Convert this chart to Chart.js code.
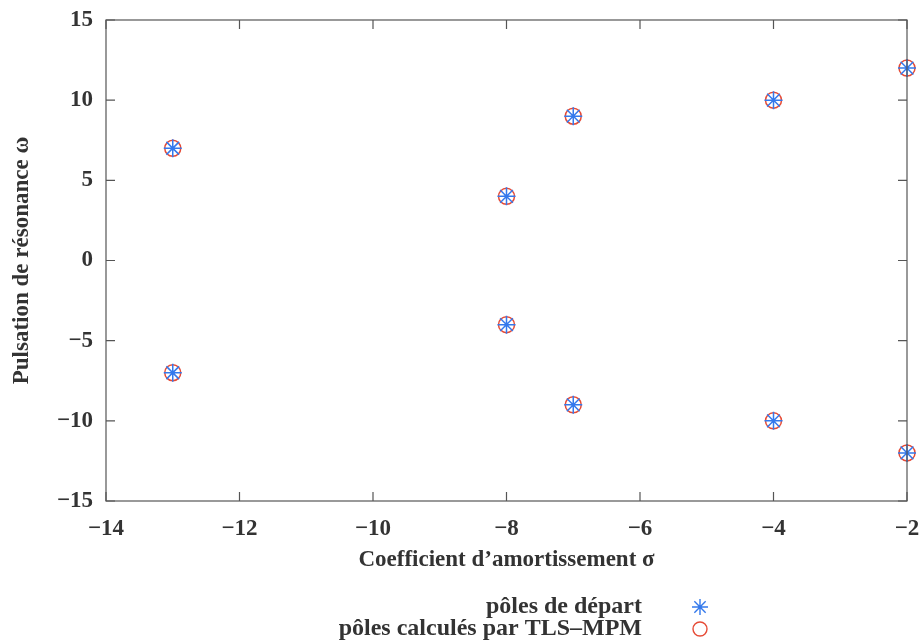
<!DOCTYPE html>
<html>
<head>
<meta charset="utf-8">
<script src="https://cdn.jsdelivr.net/npm/chart.js@4.4.0/dist/chart.umd.min.js"></script>
<style>
  html, body { margin: 0; padding: 0; background: #fff; }
  #wrap { width: 921px; height: 641px; }
</style>
</head>
<body>
<div id="wrap"><canvas id="myChart" width="921" height="641"></canvas></div>
<script>
const sigma = [-13, -13, -8, -8, -7, -7, -4, -4, -2, -2];
const omegaStart = [7, -7, 4, -4, 9, -9, 10, -10, 12, -12];
const omegaTls = [7, -7, 4, -4, 9, -9, 10, -10, 12, -12];
const xTicks = [-14, -12, -10, -8, -6, -4, -2];
const yTicks = [-15, -10, -5, 0, 5, 10, 15];
const seriesLabels = ["pôles de départ", "pôles calculés par TLS\u2013MPM"];

const ctx = document.getElementById("myChart").getContext("2d");
const serif = "'Liberation Serif', 'Times New Roman', serif";
const ink = "#333";
const blue = "#3479ec";
const red = "#e64b36";

const toPoints = (xs, ys) => xs.map((x, i) => ({ x: x, y: ys[i] }));

// inner ticks + full frame, gnuplot style
const frame = {
    id: "frame",
    afterDatasetsDraw(chart) {
        const c = chart.ctx, a = chart.chartArea;
        const sx = chart.scales.x, sy = chart.scales.y;
        c.save();
        c.strokeStyle = "#555";
        c.lineWidth = 1.2;
        c.strokeRect(a.left, a.top, a.right - a.left, a.bottom - a.top);
        c.beginPath();
        xTicks.forEach(v => {
            const px = sx.getPixelForValue(v);
            c.moveTo(px, a.bottom); c.lineTo(px, a.bottom - 9);
            c.moveTo(px, a.top); c.lineTo(px, a.top + 9);
        });
        yTicks.forEach(v => {
            const py = sy.getPixelForValue(v);
            c.moveTo(a.left, py); c.lineTo(a.left + 9, py);
            c.moveTo(a.right, py); c.lineTo(a.right - 9, py);
        });
        c.stroke();
        c.restore();
    },
    afterDraw(chart) {
        // legend: text right-aligned, marker on the right
        const c = chart.ctx;
        const textRight = 642, markX = 700, rows = [607, 629];
        c.save();
        c.font = "bold 24px " + serif;
        c.fillStyle = ink;
        c.textAlign = "right";
        c.textBaseline = "middle";
        chart.data.datasets.forEach((ds, i) => {
            const y = rows[i];
            c.fillText(ds.label, textRight, y);
            c.strokeStyle = ds.borderColor;
            c.lineWidth = 1.4;
            c.beginPath();
            if (ds.pointStyle === "circle") {
                c.arc(markX, y, 7, 0, Math.PI * 2);
            } else {
                for (let k = 0; k < 4; k++) {
                    const ang = k * Math.PI / 4;
                    c.moveTo(markX - 8 * Math.cos(ang), y - 8 * Math.sin(ang));
                    c.lineTo(markX + 8 * Math.cos(ang), y + 8 * Math.sin(ang));
                }
            }
            c.stroke();
        });
        c.restore();
    }
};

const data = {
    datasets: [
        {
            label: seriesLabels[0],
            data: toPoints(sigma, omegaStart),
            pointStyle: "star",
            radius: 9,
            borderColor: blue,
            backgroundColor: blue,
            borderWidth: 1.5,
            showLine: false,
            clip: false,
        },
        {
            label: seriesLabels[1],
            data: toPoints(sigma, omegaTls),
            pointStyle: "circle",
            radius: 8,
            borderColor: red,
            backgroundColor: "rgba(0,0,0,0)",
            borderWidth: 1.5,
            showLine: false,
            clip: false,
        },
    ],
};

const tickFont = { family: serif, size: 23, weight: "bold" };

const config = {
    type: "scatter",
    data: data,
    plugins: [frame],
    options: {
        responsive: false,
        animation: false,
        layout: { padding: { left: 0, right: 0, top: 20, bottom: 65 } },
        plugins: {
            legend: { display: false },
            tooltip: { enabled: false },
        },
        scales: {
            x: {
                type: "linear",
                min: -14,
                max: -2,
                afterBuildTicks: (axis) => { axis.ticks = xTicks.map(v => ({ value: v })); },
                afterFit: (axis) => { axis.height = 75; axis.paddingRight = 14; },
                grid: { display: false },
                border: { display: false },
                ticks: {
                    color: ink,
                    padding: 6,
                    font: tickFont,
                    callback: (v) => String(v).replace("-", "\u2212"),
                },
                title: {
                    display: true,
                    text: "Coefficient d\u2019amortissement \u03c3",
                    color: ink,
                    font: tickFont,
                    padding: { top: 4, bottom: 2 },
                },
            },
            y: {
                type: "linear",
                min: -15,
                max: 15,
                afterBuildTicks: (axis) => { axis.ticks = yTicks.map(v => ({ value: v })); },
                afterFit: (axis) => { axis.width = 106; },
                grid: { display: false },
                border: { display: false },
                ticks: {
                    color: ink,
                    padding: 5,
                    font: tickFont,
                    callback: (v) => String(v).replace("-", "\u2212"),
                },
                title: {
                    display: true,
                    text: "Pulsation de résonance \u03c9",
                    color: ink,
                    font: tickFont,
                    padding: { top: 8, bottom: 0 },
                },
            },
        },
    },
};

const myChart = new Chart(ctx, config);
</script>
</body>
</html>
